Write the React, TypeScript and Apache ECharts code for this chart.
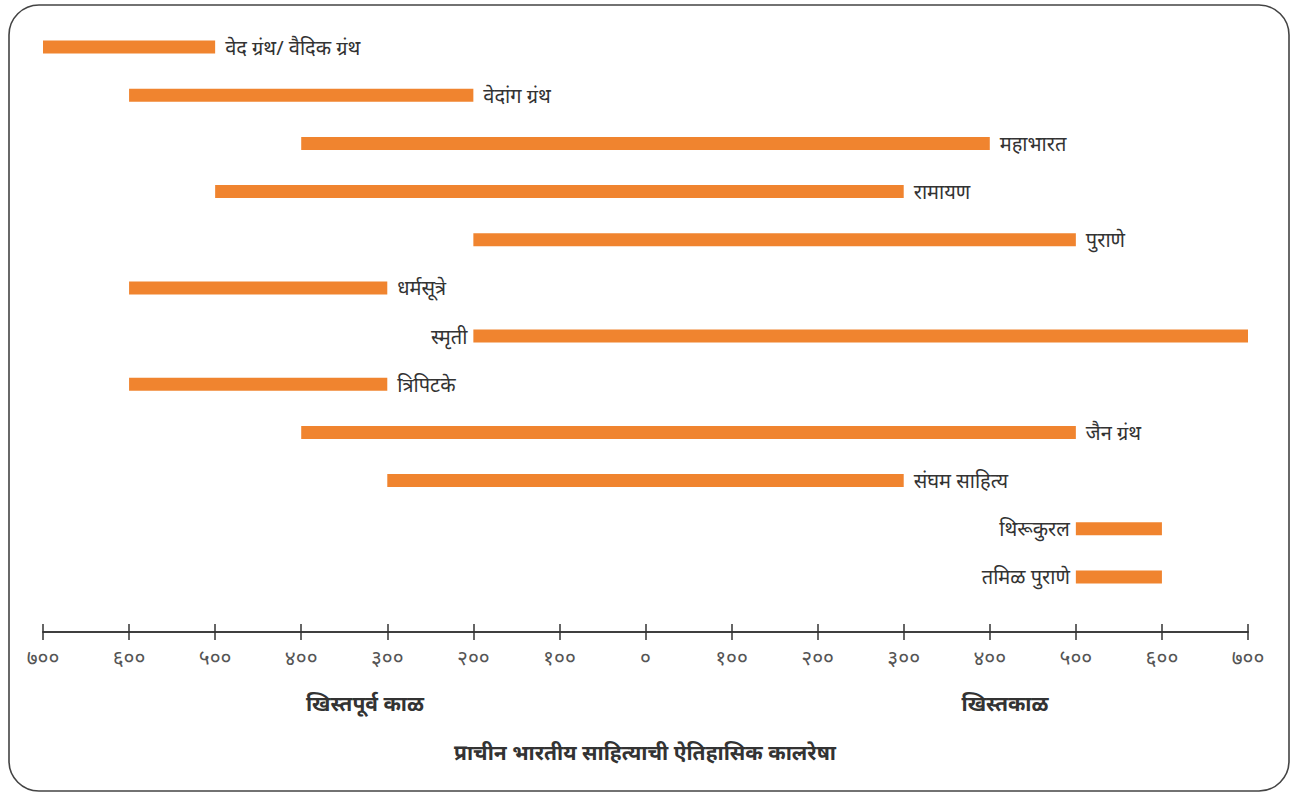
import React, { useEffect, useRef } from "react";
import * as echarts from "echarts";

const categories = [
  "वेद ग्रंथ/ वैदिक ग्रंथ",
  "वेदांग ग्रंथ",
  "महाभारत",
  "रामायण",
  "पुराणे",
  "धर्मसूत्रे",
  "स्मृती",
  "त्रिपिटके",
  "जैन ग्रंथ",
  "संघम साहित्य",
  "थिरूकुरल",
  "तमिळ पुराणे",
];
const startYears = [-700, -600, -400, -500, -200, -600, -200, -600, -400, -300, 500, 500];
const endYears = [-500, -200, 400, 300, 500, -300, 700, -300, 500, 300, 600, 600];
const labelSides = ["right", "right", "right", "right", "right", "right", "left", "right", "right", "right", "left", "left"];
const tickLabels = ["७००", "६००", "५००", "४००", "३००", "२००", "१००", "०", "१००", "२००", "३००", "४००", "५००", "६००", "७००"];
const eraLabels = ["खिस्तपूर्व काळ", "खिस्तकाळ"];
const chartTitle = "प्राचीन भारतीय साहित्याची ऐतिहासिक कालरेषा";

const FONT = "'Noto Sans', 'Noto Sans Devanagari', 'Lohit Devanagari', 'Noto Serif Devanagari', sans-serif";

export default function App() {
  const ref = useRef<HTMLDivElement>(null);
  useEffect(() => {
    if (!ref.current) return;
    const chart = echarts.init(ref.current, null, { renderer: "svg" });
    const data = categories.map((c, i) => [startYears[i], endYears[i], i]);
    const axisCommon = {
      type: "value",
      min: -700,
      max: 700,
      interval: 100,
      position: "bottom",
      offset: 31,
      splitLine: { show: false },
      axisLine: { show: true, lineStyle: { color: "#333", width: 1.5 } },
    };
    chart.setOption({
      animation: false,
      backgroundColor: "#fff",
      grid: { left: 43, right: 47, top: 23, bottom: 194 },
      xAxis: [
        {
          ...axisCommon,
          axisTick: { show: true, inside: false, length: 8, lineStyle: { color: "#333", width: 1.5 } },
          axisLabel: {
            show: true,
            margin: 14,
            fontSize: 21,
            color: "#555",
            fontFamily: FONT,
            formatter: (v: number) => tickLabels[Math.round((v + 700) / 100)],
          },
        },
        {
          ...axisCommon,
          axisTick: { show: true, inside: true, length: 8, lineStyle: { color: "#333", width: 1.5 } },
          axisLabel: { show: false },
        },
      ],
      yAxis: {
        type: "category",
        data: categories,
        inverse: true,
        show: false,
      },
      series: [
        {
          type: "custom",
          xAxisIndex: 0,
          encode: { x: [0, 1], y: 2 },
          data,
          renderItem: (params: any, api: any) => {
            const idx = params.dataIndex;
            const s = api.coord([api.value(0), idx]);
            const e = api.coord([api.value(1), idx]);
            const h = 13;
            const right = labelSides[idx] === "right";
            return {
              type: "group",
              children: [
                {
                  type: "rect",
                  shape: { x: s[0], y: s[1] - h / 2, width: e[0] - s[0], height: h },
                  style: { fill: "#F0842F" },
                },
                {
                  type: "text",
                  x: right ? e[0] + 10 : s[0] - 6,
                  y: s[1],
                  style: {
                    text: categories[idx],
                    align: right ? "left" : "right",
                    verticalAlign: "middle",
                    fontSize: 20,
                    fontFamily: FONT,
                    fill: "#333",
                  },
                },
              ],
            };
          },
        },
      ],
      graphic: [
        {
          type: "rect",
          shape: { x: 9, y: 5, width: 1280, height: 786, r: 30 },
          style: { fill: "none", stroke: "#444", lineWidth: 1.6 },
          silent: true,
        },
        {
          type: "text",
          x: 365,
          y: 703,
          style: { text: eraLabels[0], align: "center", verticalAlign: "middle", fontSize: 21, fontWeight: "bold", fontFamily: FONT, fill: "#333" },
        },
        {
          type: "text",
          x: 1005,
          y: 703,
          style: { text: eraLabels[1], align: "center", verticalAlign: "middle", fontSize: 21, fontWeight: "bold", fontFamily: FONT, fill: "#333" },
        },
        {
          type: "text",
          x: 645,
          y: 752,
          style: { text: chartTitle, align: "center", verticalAlign: "middle", fontSize: 21, fontWeight: "bold", fontFamily: FONT, fill: "#333" },
        },
      ],
    });
    return () => chart.dispose();
  }, []);
  return <div ref={ref} style={{ position: "fixed", left: 0, top: 0, width: 1295, height: 795 }} />;
}
